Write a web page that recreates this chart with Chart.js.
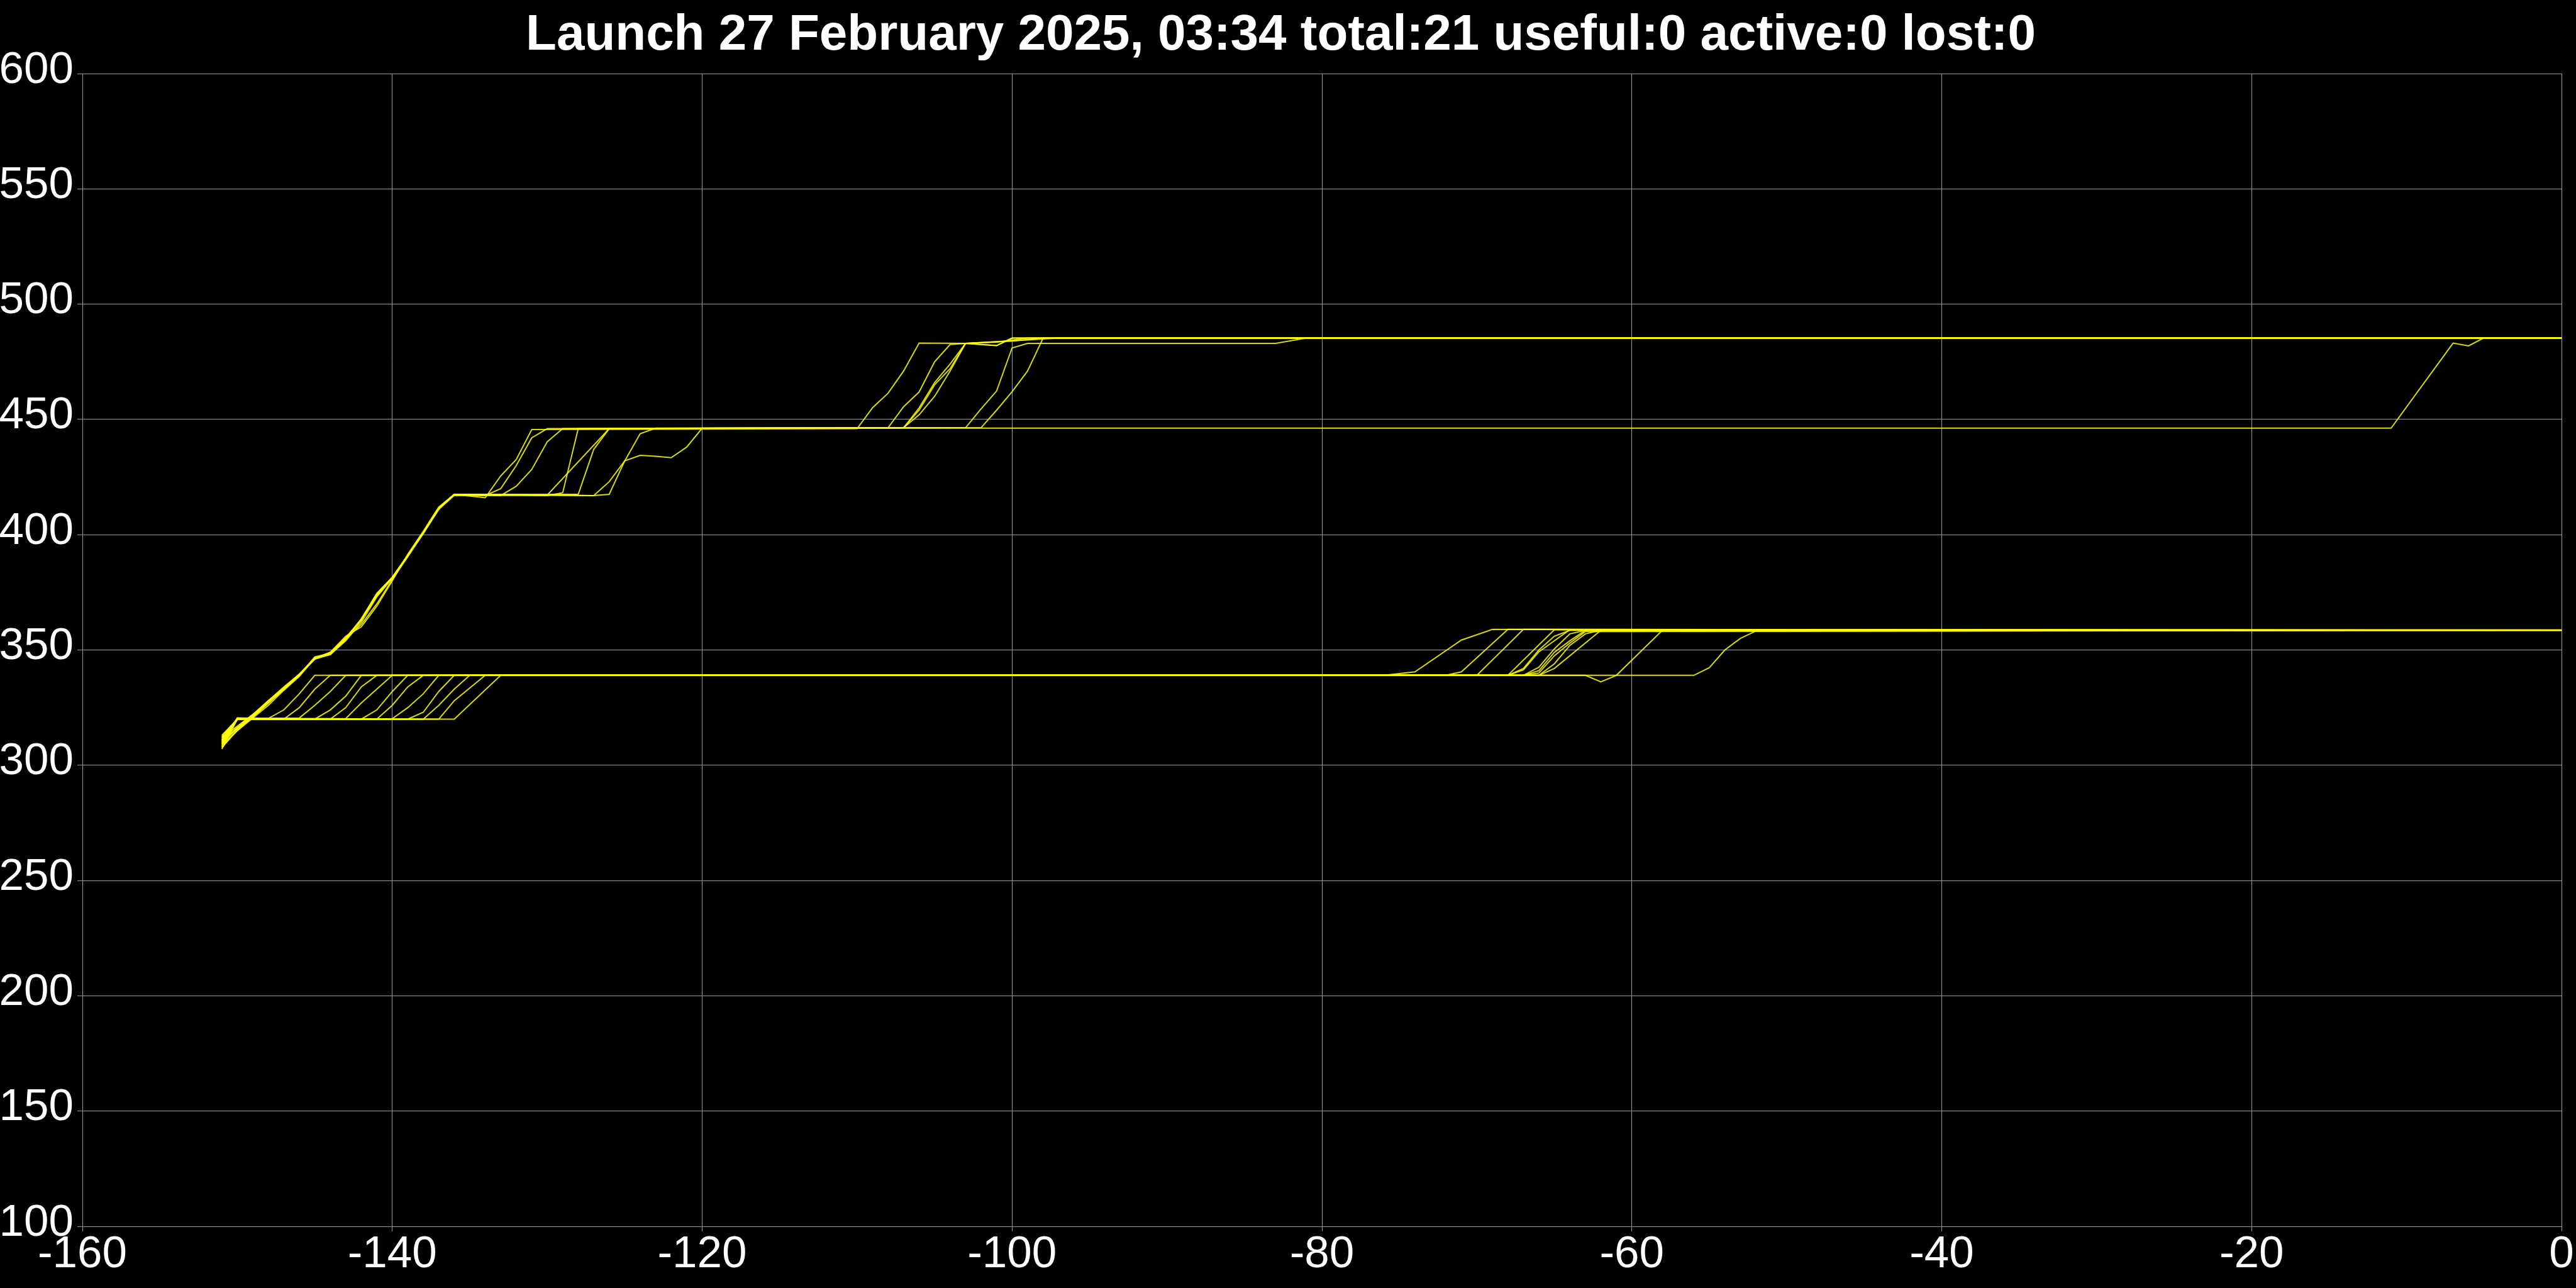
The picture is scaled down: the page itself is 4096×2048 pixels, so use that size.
<!DOCTYPE html>
<html>
<head>
<meta charset="utf-8">
<script src="https://cdn.jsdelivr.net/npm/chart.js@4.4.1/dist/chart.umd.min.js"></script>
<style>
  html, body { margin: 0; padding: 0; background: #000; }
  #wrap { width: 4096px; height: 2048px; }
</style>
</head>
<body>
<div id="wrap"><canvas id="launchChart" width="4096" height="2048"></canvas></div>
<script>
const chartTitle = 'Launch 27 February 2025, 03:34 total:21 useful:0 active:0 lost:0';
const xTicks = [-160, -140, -120, -100, -80, -60, -40, -20, 0];
const yTicks = [100, 150, 200, 250, 300, 350, 400, 450, 500, 550, 600];

// satellites that climbed straight up to ~417 then 446 and 485
const sat01 = [[-151,308],[-150,315],[-149,321],[-148,327],[-147,333],[-146,339],[-145,346.5],[-144,348.5],[-143,355],[-142,363.5],[-141,374.5],[-140,381.5],[-139,391],[-138,401],[-137,411.5],[-136,417.5],[-134,416],[-133,425.5],[-132,432.6],[-131,445.6],[-110,446],[-109,455.1],[-108,461.4],[-107,471],[-106,483.1],[-103,483],[-101,482],[-100,485.3],[0,485.3]];
const sat02 = [[-151,310],[-150,316],[-149,321.5],[-148,328],[-147,333.5],[-146,339.5],[-145,346],[-144,348],[-143,354],[-142,362],[-141,373],[-140,381],[-139,390.5],[-138,400.5],[-137,411],[-136,417.5],[-134,417],[-133,420],[-132,430],[-131,442],[-130,446],[-108,446.4],[-107,455.5],[-106,461.9],[-105,475],[-104,482.5],[-103,483],[-101,483.5],[-99,485.3],[0,485.4]];
const sat03 = [[-151,309],[-150,315],[-149,320.5],[-148,326],[-147,332.5],[-146,338.5],[-145,346.5],[-144,349],[-143,356],[-142,360],[-141,369],[-140,380],[-139,391.5],[-138,401.5],[-137,412],[-136,417.5],[-133,417],[-132,421],[-131,428.3],[-130,440.3],[-129,446],[-107,446.3],[-106,455],[-105,466],[-104,474],[-103,483],[-100,484],[-98,485.3],[0,485.3]];
const sat04 = [[-151,312],[-150,317],[-149,322],[-148,327.5],[-147,333],[-146,339],[-145,347],[-144,348.5],[-143,355.5],[-142,363],[-141,374.5],[-140,381.5],[-139,391],[-138,401],[-137,411.5],[-136,417.3],[-130,417],[-129,418.2],[-128,446],[-107,446.4],[-106,454],[-105,465],[-104,472],[-103,483],[-101,482],[-100,485.3],[0,485.3]];
const sat05 = [[-151,307.5],[-150,315.5],[-149,321],[-148,327],[-147,333],[-146,339],[-145,346],[-144,349],[-143,355],[-142,361],[-141,370],[-140,380.5],[-139,390.5],[-138,401],[-137,411],[-136,417],[-130,417.2],[-126,446],[-107,446.4],[-106,452],[-105,460],[-104,471],[-103,483],[-99,484.5],[-97,485.3],[0,485.3]];
const sat06 = [[-151,310.5],[-150,316],[-149,322],[-148,328],[-147,334],[-146,339.5],[-145,346.5],[-144,348],[-143,354.5],[-142,363],[-141,374],[-140,381],[-139,391],[-138,400.5],[-137,411.5],[-136,417.5],[-128,417.5],[-127,437],[-126,446],[-103,446.4],[-102,454.6],[-101,462.3],[-100,481],[-99,483],[-83,483],[-81,485.3],[0,485.3]];
const sat07 = [[-151,309.5],[-150,316],[-149,321],[-148,327],[-147,333],[-146,339],[-145,346.5],[-144,348.5],[-143,355],[-142,363.5],[-141,374],[-140,381.5],[-139,391],[-138,401],[-137,411.5],[-136,417.5],[-127,417],[-126,417.5],[-125,432],[-124,443.8],[-123,446.2],[-102,446.4],[-101,454],[-100,462],[-99,471],[-98,485.2],[0,485.3]];
const sat08 = [[-151,311],[-150,316.5],[-149,322],[-148,328],[-147,333.5],[-146,339.5],[-145,346.5],[-144,348.5],[-143,355],[-142,363],[-141,373.5],[-140,381.5],[-139,391],[-138,401],[-137,411.5],[-136,417.5],[-127,417],[-126,423],[-125,432],[-124,434.4],[-123,434],[-122,433.4],[-121,438],[-120,446.2],[-11,446.2],[-7,483.1],[-6,481.9],[-5,485.4],[0,485.4]];

// satellites that stepped 320 -> 339 -> 358
const sat09 = [[-151,311.5],[-150,320],[-148,320.3],[-147,324],[-146,331],[-145,339],[-70,339],[-67,358.9],[0,358.6]];
const sat10 = [[-151,308.5],[-150,320.5],[-147,320],[-146,325],[-145,333],[-144,339],[-67,339],[-66,341],[-65,349],[-64,354],[-63,358.5],[0,358.6]];
const sat11 = [[-151,312.5],[-150,320],[-146,320.5],[-145,326],[-144,332],[-143,339],[-76,339],[-74,340.5],[-71,354.3],[-69,358.9],[0,358.5]];
const sat12 = [[-151,307],[-150,320],[-145,320],[-144,324],[-143,330],[-142,339],[-66,339],[-65,344],[-64,352],[-63,357],[-62,358.5],[0,358.7]];
const sat13 = [[-151,310],[-150,320.5],[-144,320],[-143,325],[-142,334],[-141,339],[-68,339],[-65,358.8],[0,358.5]];
const sat14 = [[-151,313],[-150,320],[-143,320.3],[-142,327],[-141,333],[-140,339],[-63,339],[-62,336.2],[-61,339],[-58,358.7],[0,358.6]];
const sat15 = [[-151,309],[-150,320],[-142,320],[-141,324],[-140,332],[-139,339],[-67,339],[-66,340],[-65,347.5],[-64,353],[-63,358],[0,358.6]];
const sat16 = [[-151,311],[-150,320.5],[-141,320],[-140,326],[-139,334],[-138,339],[-68,339],[-67,341.4],[-66,349.2],[-64,358.8],[0,358.5]];
const sat17 = [[-151,308],[-150,320],[-140,320.2],[-139,325],[-138,331],[-137,339],[-68,339],[-67,342],[-66,350],[-65,356],[-64,358.5],[0,358.6]];
const sat18 = [[-151,312],[-150,320],[-139,320],[-138,323],[-137,332],[-136,339],[-72,339],[-71,340.5],[-68,358.9],[0,358.6]];
const sat19 = [[-151,310.5],[-150,320],[-138,320],[-137,326],[-136,333],[-135,339],[-56,339],[-55,342.3],[-54,350],[-53,355],[-52,358.2],[0,358.6]];
const sat20 = [[-151,309.5],[-150,320],[-137,320],[-136,328],[-134,339],[-67,339],[-66,342.5],[-65,350.5],[-64,357],[-63,358.5],[0,358.5]];
const sat21 = [[-151,311],[-150,320],[-136,320],[-133,339],[-66,339],[-65,342],[-62,358.5],[0,358.6]];

const satellites = [sat01, sat02, sat03, sat04, sat05, sat06, sat07, sat08, sat09, sat10, sat11,
  sat12, sat13, sat14, sat15, sat16, sat17, sat18, sat19, sat20, sat21];

const fontFamily = "'Liberation Sans', Arial, sans-serif";
const gridColor = '#9a9a9a';

const datasets = satellites.map((pts, i) => ({
  label: 'sat' + (i + 1),
  data: pts.map(p => ({ x: p[0], y: p[1] })),
  borderColor: 'rgba(255, 255, 0, 0.85)',
  borderWidth: 2,
  pointRadius: 0,
  tension: 0,
  fill: false
}));

const ctx = document.getElementById('launchChart').getContext('2d');

new Chart(ctx, {
  type: 'line',
  data: { datasets: datasets },
  options: {
    responsive: false,
    devicePixelRatio: 1,
    animation: false,
    events: [],
    layout: { padding: { left: 0, right: 23, top: 0, bottom: 0 } },
    plugins: {
      legend: { display: false },
      tooltip: { enabled: false },
      title: {
        display: true,
        text: chartTitle,
        color: '#ffffff',
        font: { family: fontFamily, size: 80, weight: 'bold', lineHeight: 1.2 },
        padding: { top: 9, bottom: 12 }
      }
    },
    scales: {
      x: {
        type: 'linear',
        min: -160,
        max: 0,
        afterBuildTicks: axis => { axis.ticks = xTicks.map(v => ({ value: v })); },
        afterFit: axis => { axis.height = 98; },
        grid: { color: gridColor, lineWidth: 1, tickLength: 8, tickColor: gridColor },
        border: { color: gridColor, width: 1 },
        ticks: {
          color: '#ffffff',
          padding: 2,
          maxRotation: 0,
          font: { family: fontFamily, size: 71, lineHeight: 1 }
        }
      },
      y: {
        type: 'linear',
        min: 100,
        max: 600,
        afterBuildTicks: axis => { axis.ticks = yTicks.map(v => ({ value: v })); },
        afterFit: axis => { axis.width = 131; },
        grid: { color: gridColor, lineWidth: 1, tickLength: 8, tickColor: gridColor },
        border: { color: gridColor, width: 1 },
        ticks: {
          color: '#ffffff',
          padding: 6,
          labelOffset: -5,
          font: { family: fontFamily, size: 71, lineHeight: 1 }
        }
      }
    }
  }
});
</script>
</body>
</html>
